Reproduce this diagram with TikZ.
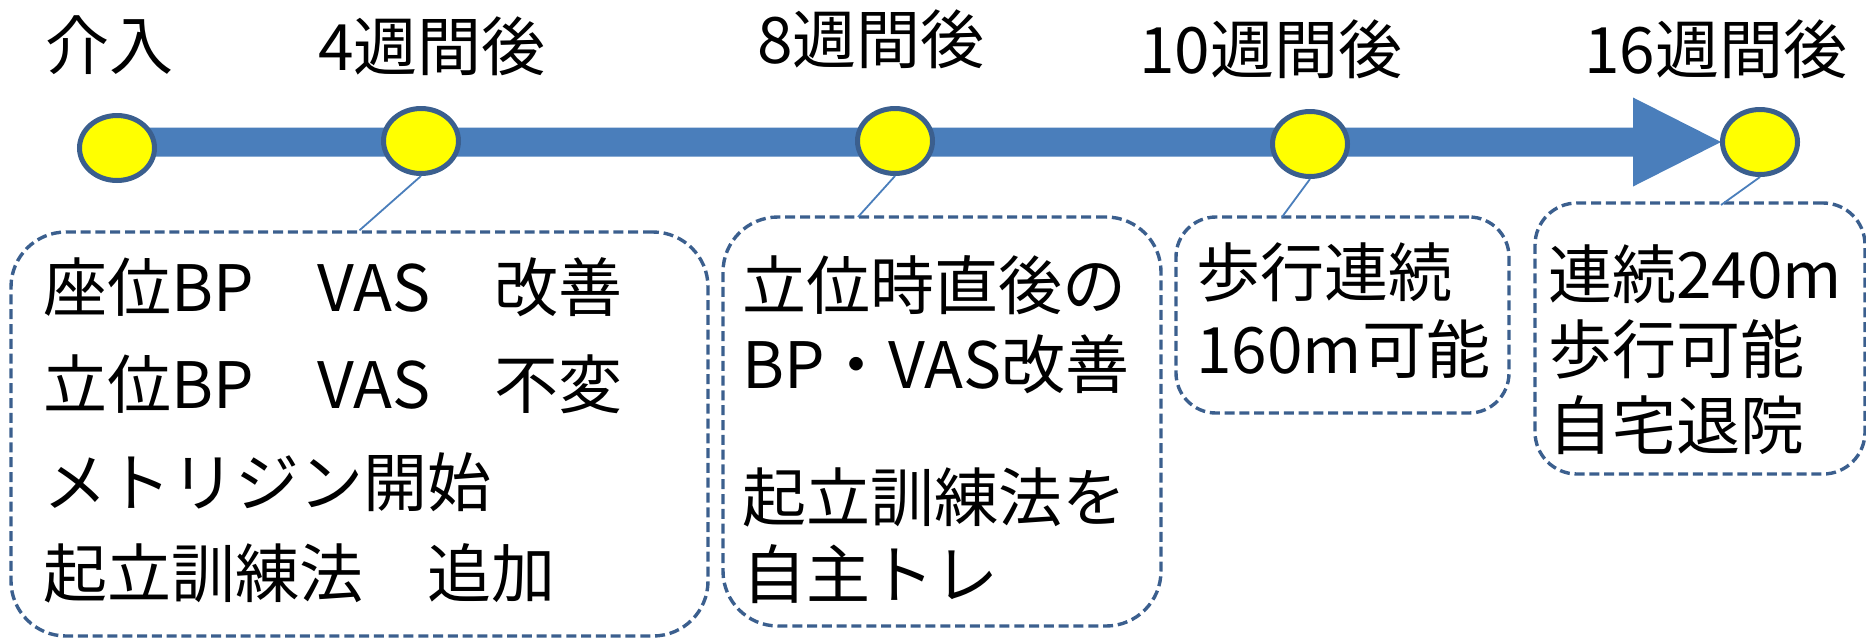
\documentclass[tikz,border=0pt]{standalone}
\usepackage{fontspec}
\setmainfont{Noto Sans CJK JP}
\usetikzlibrary{shapes.geometric,calc}
\definecolor{barblue}{HTML}{4A7EBB}
\definecolor{edgeblue}{HTML}{3B5F8E}
\definecolor{dotyellow}{HTML}{FFFF00}
\begin{document}
\begin{tikzpicture}[x=0.5pt,y=-0.5pt,
  dot/.style={ellipse, draw=edgeblue, line width=2.5pt, fill=dotyellow,
    minimum width=37.5pt, minimum height=32.5pt, inner sep=0pt},
  notebox/.style={rectangle, draw=edgeblue, line width=1.7pt,
    dash pattern=on 5pt off 2.4pt, inner sep=0pt},
  lbl/.style={anchor=base west, inner sep=0pt, font=\fontsize{32pt}{38pt}\selectfont},
  conn/.style={draw=barblue, line width=0.9pt}]
\useasboundingbox (0,0) rectangle (1866,638);

% titles
\node[lbl] (t1) at (45,69) {介入};
\node[lbl] (t2) at (318,70) {4週間後};
\node[lbl] (t3) at (757,63) {8週間後};
\node[lbl] (t4) at (1139,73) {10週間後};
\node[lbl] (t5) at (1584,73) {16週間後};

% circle positions
\path (117,148) coordinate (p1) (421,141) coordinate (p2) (895,141) coordinate (p3)
      (1310,144) coordinate (p4) (1760,142) coordinate (p5);
\coordinate (tip) at (1721,142);

% timeline arrow
\fill[barblue] ($(p1 |- tip)+(0,-14.5)$) -- ($(tip)+(-88,-14.5)$) -- ($(tip)+(-88,-44.5)$)
  -- (tip) -- ($(tip)+(-88,44.5)$) -- ($(tip)+(-88,14.5)$) -- ($(p1 |- tip)+(0,14.5)$) -- cycle;

\node[dot] (c1) at (p1) {};
\node[dot] (c2) at (p2) {};
\node[dot] (c3) at (p3) {};
\node[dot] (c4) at (p4) {};
\node[dot] (c5) at (p5) {};

% boxes
\node[notebox, minimum width=348.5pt, minimum height=202pt, rounded corners=27.5pt] (b1) at (359.5,434) {};
\node[notebox, minimum width=219pt, minimum height=204.5pt, rounded corners=27.5pt] (b2) at (942,421.5) {};
\node[notebox, minimum width=166.5pt, minimum height=98pt, rounded corners=20pt] (b3) at (1342.5,315) {};
\node[notebox, minimum width=165pt, minimum height=135.5pt, rounded corners=21pt] (b4) at (1700,338.5) {};

% connectors
\coordinate (k2) at (858,217);
\coordinate (k3) at (1282,217);
\coordinate (k4) at (1721,205);
\draw[conn] (c2.south) -- (b1.north);
\draw[conn] (c3.south) -- (k2);
\draw[conn] (c4.south) -- (k3);
\draw[conn] (c5.south) -- (k4);

% box 1 text
\node[lbl] (a1) at (43,311) {座位BP　VAS　改善};
\node[lbl] (a2) at (43,408) {立位BP　VAS　不変};
\node[lbl] (a3) at (43,506) {メトリジン開始};
\node[lbl] (a4) at (43,597) {起立訓練法　追加};

% box 2 text
\node[lbl] (d1) at (742,309) {立位時直後の};
\node[lbl] (d2) at (742,388) {BP・VAS改善};
\node[lbl] (d3) at (742,521) {起立訓練法を};
\node[lbl] (d4) at (742,598) {自主トレ};

% box 3 text
\node[lbl] (e1) at (1196,296) {歩行連続};
\node[lbl] (e2) at (1196,373) {160m可能};

% box 4 text
\node[lbl] (f1) at (1548,298) {連続240m};
\node[lbl] (f2) at (1548,373) {歩行可能};
\node[lbl] (f3) at (1548,449) {自宅退院};
\end{tikzpicture}
\end{document}
